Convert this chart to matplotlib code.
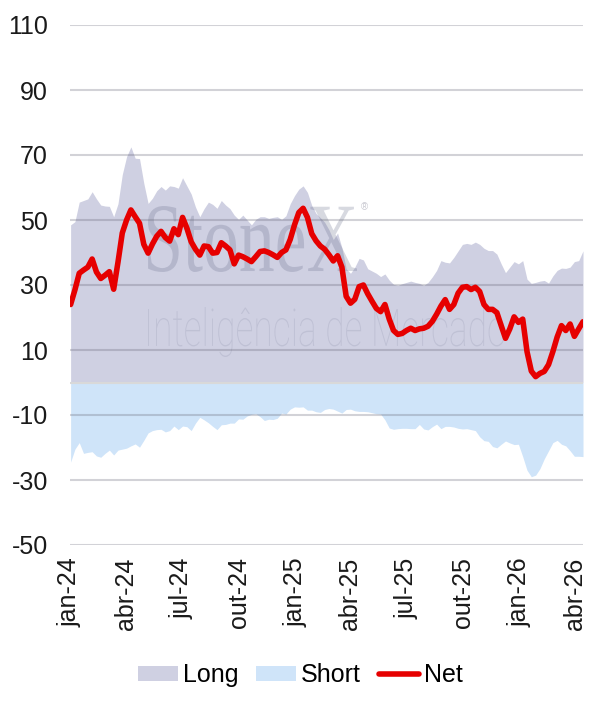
import pandas as pd
import matplotlib
matplotlib.use('Agg')
import matplotlib.pyplot as plt
from matplotlib.patches import Patch, PathPatch
from matplotlib.lines import Line2D
from matplotlib.textpath import TextPath
from matplotlib.transforms import Affine2D
from matplotlib.font_manager import FontProperties

# weekly positions (COT style)
first_week = '2024-01-02'
n_weeks = 120

net = [24, 28.5, 33.6, 34.6, 35.5, 38, 34, 32, 33, 34.1,
       28.7, 37, 46, 50, 53.1, 51, 49, 42.5, 39.8, 42.6,
       45, 46.5, 44.6, 43.5, 47.3, 45.5, 50.8, 47.5, 43.3, 41,
       39.2, 42, 41.8, 39.8, 40, 43, 42, 40.8, 36.5, 39.2,
       38.7, 38, 37.2, 38.7, 40.3, 40.5, 40, 39.3, 38.5, 40,
       40.8, 44, 48.5, 52.3, 53.6, 50.8, 45.8, 43.6, 42, 41,
       39.3, 37.4, 39, 35.5, 26.5, 24.4, 25.6, 29.5, 30, 27.3,
       25, 22.8, 21.8, 24, 19.5, 16, 14.8, 15.1, 16, 16.7,
       16, 16.5, 16.7, 17.3, 18.8, 21, 23.5, 25.5, 22.5, 24,
       27.5, 29.3, 29.5, 28.6, 29.3, 28, 24, 22.5, 22.5, 21.5,
       17.5, 13.6, 16.5, 20.2, 18.5, 19.5, 9.5, 3.5, 1.8, 2.8,
       3.4, 5.5, 9.5, 14, 17.5, 16, 18, 14.2, 16.5, 18.7]

long_pos = [48.5, 49.5, 55.5, 56, 56.5, 58.7, 56.5, 54.6, 54.3, 54.2,
            51, 55, 64, 69.5, 72.5, 69, 68.9, 61.3, 55.1, 56.7,
            59, 60.3, 59.2, 60.5, 60.3, 59.8, 63, 60.5, 58, 54,
            51, 53.5, 55.5, 54.8, 53.6, 56, 54.6, 53.5, 51.5, 50.2,
            51.5, 50, 48.5, 50.2, 51, 51, 50.5, 50.8, 51, 50.2,
            51.3, 55, 57.5, 59.5, 60.5, 58.5, 54.5, 52, 50.7, 49.3,
            47, 44, 46, 41.5, 35, 33.6, 35.5, 38.2, 37.7, 35,
            34.3, 33.6, 32.6, 33.4, 31.5, 30.2, 29.9, 30.4, 30.8, 31.2,
            30.8, 30.5, 29.9, 30.8, 32.5, 34.5, 37.5, 37, 36.8, 38.5,
            40.5, 42.5, 42.8, 42.5, 43.2, 42.5, 41.3, 40.6, 40.6, 39.5,
            36.5, 33.8, 35.5, 37.2, 36.5, 37.5, 31.8, 30.5, 30.8, 31.2,
            31.4, 30.6, 32.8, 34.5, 35.2, 35.1, 35.5, 37.2, 37.5, 40.5]

short_pos = [-24.5, -20.5, -18.5, -21.8, -21.5, -21.3, -22.6, -23, -21.8, -20.8,
             -22.3, -20.8, -20.5, -20.2, -19.5, -18.9, -19.9, -17.8, -15.5, -14.8,
             -14.5, -14.4, -15.2, -14.8, -13.4, -14.5, -13.4, -13.6, -14.8, -12.5,
             -10.7, -11.5, -12.4, -13.5, -14.5, -13, -12.9, -12.5, -12.5, -11.2,
             -11.3, -10.3, -9.8, -9.6, -10.5, -11.7, -11.3, -11.4, -11, -9.4,
             -9.7, -8.2, -7.5, -7.6, -7.5, -8.5, -8.5, -9, -9.2, -8.3,
             -8, -8.2, -8.8, -9.4, -8.3, -8.2, -8.7, -8.9, -8.9, -9,
             -9.3, -9.6, -9.7, -11.5, -14, -14.4, -14.2, -14.1, -14.1, -14.2,
             -14.2, -12.9, -14.3, -14.6, -13.6, -12.8, -14.2, -13.5, -13.5, -13.7,
             -14.1, -14.3, -14.2, -14.5, -14.8, -16.7, -17.9, -18.1, -19.7, -20.1,
             -19, -18, -18.6, -19.1, -19, -22.8, -27, -29, -28.5, -26.5,
             -23.5, -21, -18.5, -17.8, -19, -19.5, -21, -22.7, -22.7, -22.8]

tick_dates = ['2024-01-01', '2024-04-01', '2024-07-01', '2024-10-01',
              '2025-01-01', '2025-04-01', '2025-07-01', '2025-10-01',
              '2026-01-01', '2026-04-01']
tick_labels = ['jan-24', 'abr-24', 'jul-24', 'out-24', 'jan-25',
               'abr-25', 'jul-25', 'out-25', 'jan-26', 'abr-26']
y_ticks = [-50, -30, -10, 10, 30, 50, 70, 90, 110]

LONG_C = '#CFD0E2'
SHORT_C = '#CFE4F9'
NET_C = '#E60000'
W, H = 591, 709
FS = 18


def stamp(ax, text, prop, x0, y_bottom, w, h, color, alpha):
    # watermark text stretched to a box given in image pixels
    tp = TextPath((0, 0), text, size=100, prop=prop)
    bb = tp.get_extents()
    tr = (Affine2D().translate(-bb.x0, -bb.y0)
          .scale(w / bb.width, h / bb.height)
          .translate(x0, H - y_bottom))
    ax.add_patch(PathPatch(tp, transform=tr, fc=color, ec='none',
                           alpha=alpha, zorder=2.2))


def main():
    plt.rcParams['font.family'] = ['Liberation Sans', 'DejaVu Sans']
    plt.rcParams['axes.unicode_minus'] = False
    dates = pd.date_range(first_week, periods=n_weeks, freq='7D')

    fig = plt.figure(figsize=(W / 100, H / 100), dpi=100)
    ax = fig.add_axes([70 / W, 1 - 545 / H, 513 / W, 520 / H])

    ax.fill_between(dates, 0, long_pos, color=LONG_C, lw=0, zorder=1)
    ax.fill_between(dates, short_pos, 0, color=SHORT_C, lw=0, zorder=1)
    ax.axhline(0, color='#D9D9D9', lw=1.5, zorder=3)
    ax.plot(dates, net, color=NET_C, lw=4.0, solid_joinstyle='round',
            solid_capstyle='round', zorder=4)

    stamp(ax, 'StoneX', FontProperties(family='Liberation Serif'),
          148, 272, 209, 66, '#6E7390', 0.27)
    stamp(ax, 'Inteligência de Mercado',
          FontProperties(family='Roboto', weight='light'),
          148, 357, 357, 50, '#6E7390', 0.16)
    fig.text(361 / W, 1 - 210 / H, '®', fontsize=7, color='#C8C8D0')

    ax.set_xlim(dates[0], dates[-1])
    ax.set_ylim(-50, 110)
    ax.set_yticks(y_ticks)
    ax.set_xticks(pd.to_datetime(tick_dates))
    ax.set_xticklabels(tick_labels, rotation=90)
    ax.tick_params(axis='both', length=0, labelsize=FS, colors='#1a1a1a')
    ax.tick_params(axis='y', pad=16)
    ax.tick_params(axis='x', pad=9)
    ax.yaxis.grid(True, color='#606070', alpha=0.28, lw=1.5)
    ax.set_axisbelow(False)
    for s in ax.spines.values():
        s.set_visible(False)

    handles = [Patch(facecolor=LONG_C, label='Long'),
               Patch(facecolor=SHORT_C, label='Short'),
               Line2D([], [], color=NET_C, lw=4.0, solid_capstyle='round',
                      label='Net')]
    fig.legend(handles=handles, loc='center', bbox_to_anchor=(0.508, 0.048),
               ncol=3, frameon=False, fontsize=FS, handlelength=1.6,
               handleheight=0.55, handletextpad=0.2, columnspacing=0.7)

    fig.savefig('out.png', dpi=100)


if __name__ == "__main__":
    main()
